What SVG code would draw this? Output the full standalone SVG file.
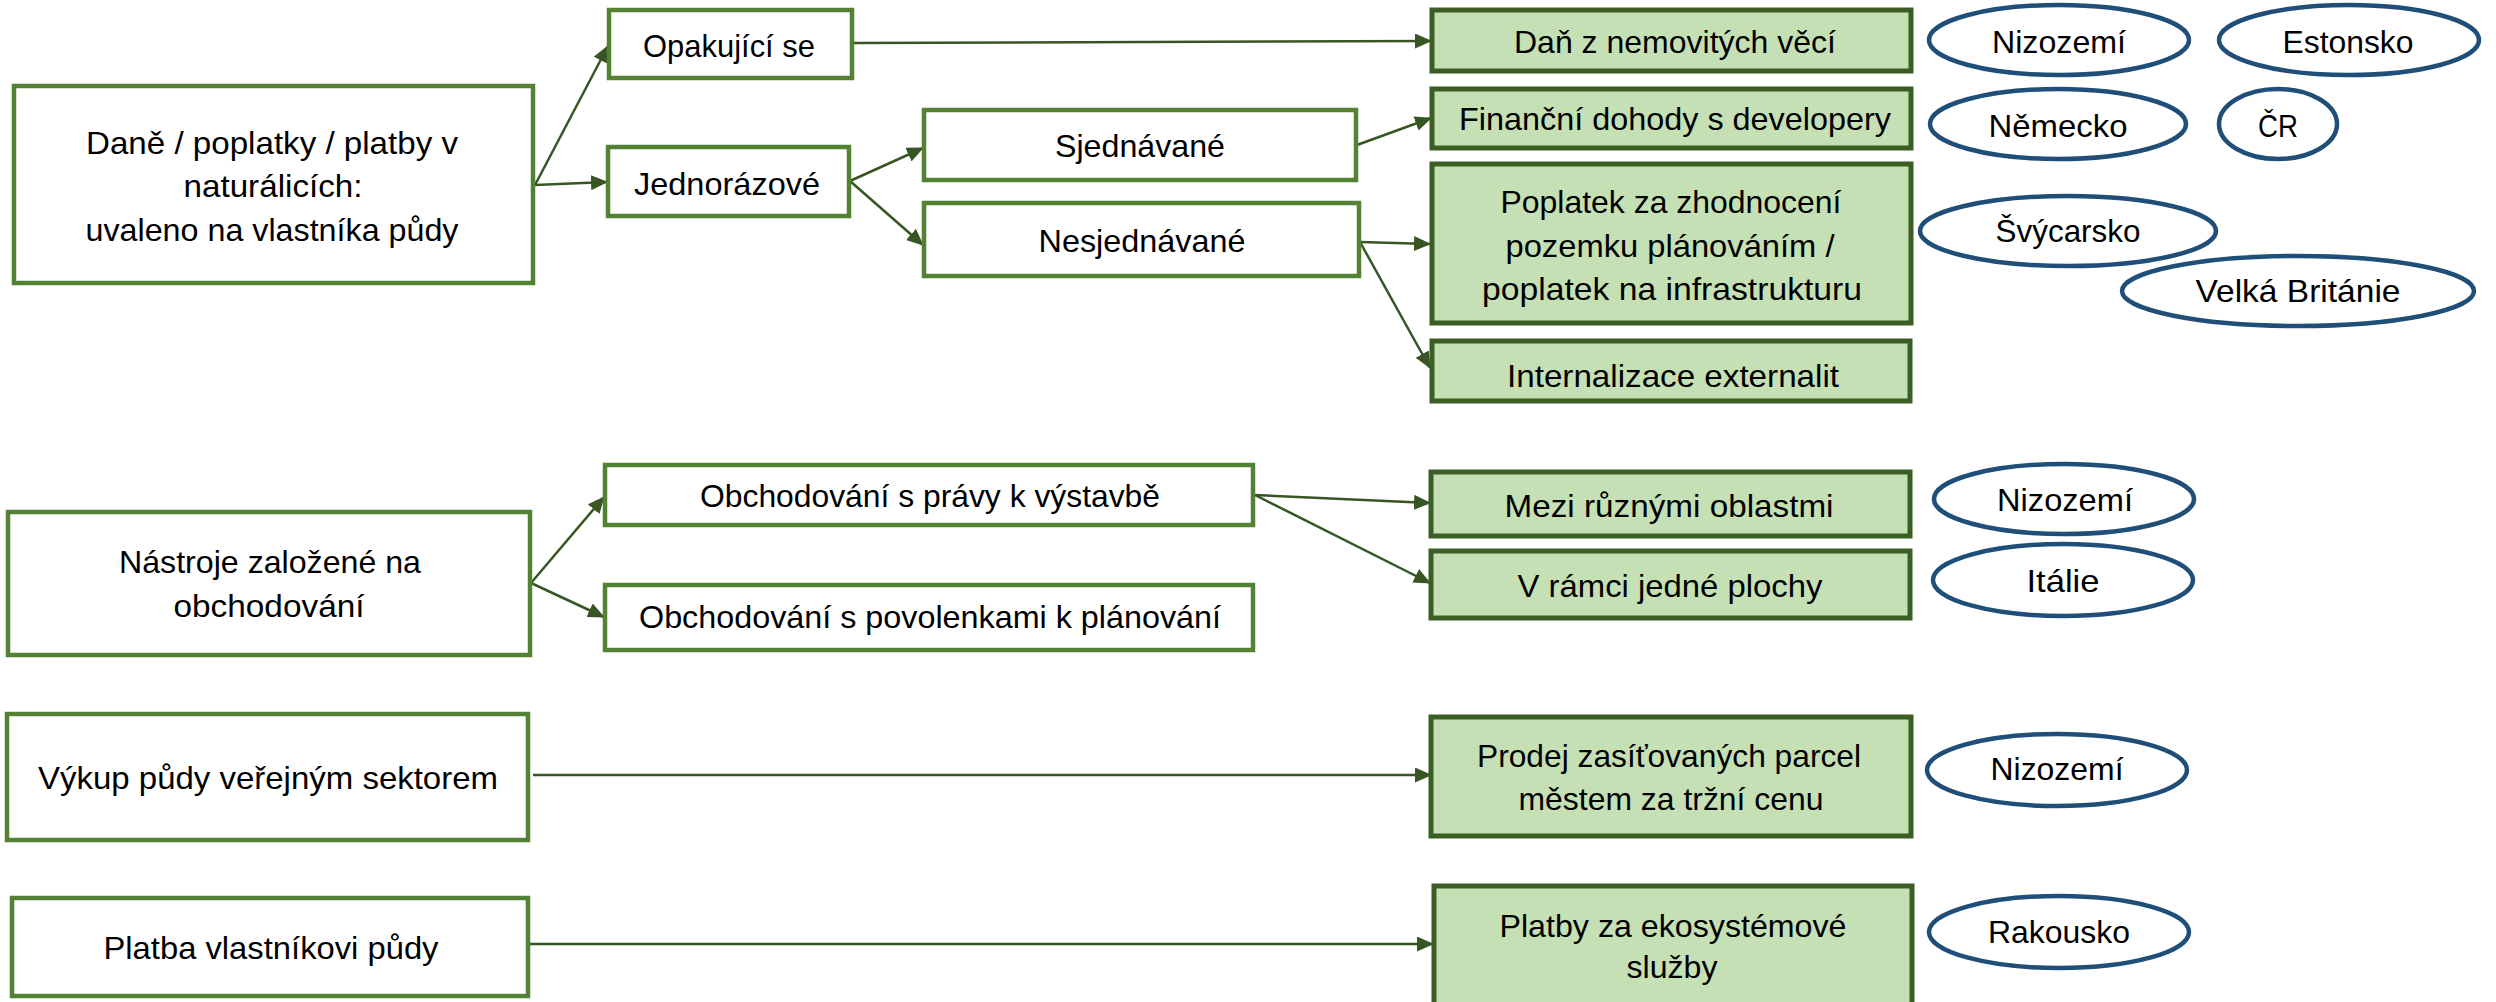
<svg xmlns="http://www.w3.org/2000/svg" width="2496" height="1002" viewBox="0 0 2496 1002">
<style>
.wb{fill:#ffffff;stroke:#548235;stroke-width:4.5}
.gb{fill:#c5e0b4;stroke:#3b5e25;stroke-width:5}
.el{fill:#ffffff;stroke:#1f4e79;stroke-width:4.5}
.t{font-family:"Liberation Sans",Arial,sans-serif;font-size:32px;fill:#000000;text-anchor:middle}
.c{stroke:#375623;stroke-width:2.5;fill:none;marker-end:url(#ah)}
</style>
<defs>
<marker id="ah" markerUnits="userSpaceOnUse" viewBox="0 0 17 15" markerWidth="17" markerHeight="15" refX="16" refY="7.5" orient="auto">
<path d="M0,0 L17,7.5 L0,15 z" fill="#375623"/>
</marker>
</defs>
<rect width="2496" height="1002" fill="#ffffff"/>
<g id="connectors">
<line class="c" x1="535" y1="185" x2="608" y2="46"/>
<line class="c" x1="535" y1="185" x2="607" y2="182"/>
<line class="c" x1="852" y1="43" x2="1431" y2="41"/>
<line class="c" x1="850" y1="181" x2="923" y2="148"/>
<line class="c" x1="850" y1="181" x2="923" y2="245"/>
<line class="c" x1="1357" y1="145" x2="1431" y2="118"/>
<line class="c" x1="1360" y1="242" x2="1430" y2="244"/>
<line class="c" x1="1360" y1="242" x2="1430" y2="368"/>
<line class="c" x1="531" y1="583" x2="604" y2="497"/>
<line class="c" x1="531" y1="583" x2="604" y2="617"/>
<line class="c" x1="1255" y1="495" x2="1430" y2="503"/>
<line class="c" x1="1255" y1="495" x2="1430" y2="583"/>
<line class="c" x1="533" y1="775" x2="1431" y2="775"/>
<line class="c" x1="529" y1="944" x2="1433" y2="944"/>
</g>
<g id="n-dane">
<rect class="wb" x="14" y="86" width="519" height="197"/>
<text class="t" x="272" y="154" textLength="372" lengthAdjust="spacingAndGlyphs">Daně / poplatky / platby v</text>
<text class="t" x="273" y="197" textLength="179" lengthAdjust="spacingAndGlyphs">naturálicích:</text>
<text class="t" x="272" y="241" textLength="373" lengthAdjust="spacingAndGlyphs">uvaleno na vlastníka půdy</text>
</g>
<g id="n-opak">
<rect class="wb" x="609" y="10" width="243" height="68"/>
<text class="t" x="729" y="57" textLength="172" lengthAdjust="spacingAndGlyphs">Opakující se</text>
</g>
<g id="n-jedn">
<rect class="wb" x="608" y="147" width="241" height="69"/>
<text class="t" x="727" y="195" textLength="186" lengthAdjust="spacingAndGlyphs">Jednorázové</text>
</g>
<g id="n-sjed">
<rect class="wb" x="924" y="110" width="432" height="70"/>
<text class="t" x="1140" y="157" textLength="170" lengthAdjust="spacingAndGlyphs">Sjednávané</text>
</g>
<g id="n-nesj">
<rect class="wb" x="924" y="203" width="435" height="73"/>
<text class="t" x="1142" y="252" textLength="207" lengthAdjust="spacingAndGlyphs">Nesjednávané</text>
</g>
<g id="n-dan">
<rect class="gb" x="1432" y="10" width="479" height="61"/>
<text class="t" x="1675" y="53" textLength="322" lengthAdjust="spacingAndGlyphs">Daň z nemovitých věcí</text>
</g>
<g id="n-fin">
<rect class="gb" x="1432" y="89" width="479" height="59"/>
<text class="t" x="1675" y="130" textLength="432" lengthAdjust="spacingAndGlyphs">Finanční dohody s developery</text>
</g>
<g id="n-popl">
<rect class="gb" x="1432" y="164" width="479" height="159"/>
<text class="t" x="1671" y="213" textLength="341" lengthAdjust="spacingAndGlyphs">Poplatek za zhodnocení</text>
<text class="t" x="1670" y="257" textLength="329" lengthAdjust="spacingAndGlyphs">pozemku plánováním /</text>
<text class="t" x="1672" y="300" textLength="380" lengthAdjust="spacingAndGlyphs">poplatek na infrastrukturu</text>
</g>
<g id="n-intern">
<rect class="gb" x="1432" y="341" width="478" height="60"/>
<text class="t" x="1673" y="387" textLength="332" lengthAdjust="spacingAndGlyphs">Internalizace externalit</text>
</g>
<g id="e-nl1">
<ellipse class="el" cx="2059" cy="40" rx="130" ry="35"/>
<text class="t" x="2059" y="53" textLength="134" lengthAdjust="spacingAndGlyphs">Nizozemí</text>
</g>
<g id="e-ee">
<ellipse class="el" cx="2349" cy="40" rx="130" ry="35"/>
<text class="t" x="2348" y="53" textLength="131" lengthAdjust="spacingAndGlyphs">Estonsko</text>
</g>
<g id="e-de">
<ellipse class="el" cx="2058" cy="124" rx="128" ry="35"/>
<text class="t" x="2058" y="137" textLength="139" lengthAdjust="spacingAndGlyphs">Německo</text>
</g>
<g id="e-cr">
<ellipse class="el" cx="2278" cy="124" rx="59" ry="35"/>
<text class="t" x="2278" y="137" textLength="40" lengthAdjust="spacingAndGlyphs">ČR</text>
</g>
<g id="e-ch">
<ellipse class="el" cx="2068" cy="231" rx="148" ry="35"/>
<text class="t" x="2068" y="242" textLength="145" lengthAdjust="spacingAndGlyphs">Švýcarsko</text>
</g>
<g id="e-uk">
<ellipse class="el" cx="2298" cy="291" rx="176" ry="35"/>
<text class="t" x="2298" y="302" textLength="205" lengthAdjust="spacingAndGlyphs">Velká Británie</text>
</g>
<g id="n-nastroje">
<rect class="wb" x="8" y="512" width="522" height="143"/>
<text class="t" x="270" y="573" textLength="302" lengthAdjust="spacingAndGlyphs">Nástroje založené na</text>
<text class="t" x="269" y="617" textLength="191" lengthAdjust="spacingAndGlyphs">obchodování</text>
</g>
<g id="n-obch1">
<rect class="wb" x="605" y="465" width="648" height="60"/>
<text class="t" x="930" y="507" textLength="460" lengthAdjust="spacingAndGlyphs">Obchodování s právy k výstavbě</text>
</g>
<g id="n-obch2">
<rect class="wb" x="605" y="585" width="648" height="65"/>
<text class="t" x="930" y="628" textLength="582" lengthAdjust="spacingAndGlyphs">Obchodování s povolenkami k plánování</text>
</g>
<g id="n-mezi">
<rect class="gb" x="1431" y="472" width="479" height="64"/>
<text class="t" x="1669" y="517" textLength="329" lengthAdjust="spacingAndGlyphs">Mezi různými oblastmi</text>
</g>
<g id="n-vramci">
<rect class="gb" x="1431" y="551" width="479" height="67"/>
<text class="t" x="1670" y="597" textLength="305" lengthAdjust="spacingAndGlyphs">V rámci jedné plochy</text>
</g>
<g id="e-nl2">
<ellipse class="el" cx="2064" cy="499" rx="130" ry="35"/>
<text class="t" x="2065" y="511" textLength="136" lengthAdjust="spacingAndGlyphs">Nizozemí</text>
</g>
<g id="e-it">
<ellipse class="el" cx="2063" cy="580" rx="130" ry="36"/>
<text class="t" x="2063" y="592" textLength="73" lengthAdjust="spacingAndGlyphs">Itálie</text>
</g>
<g id="n-vykup">
<rect class="wb" x="7" y="714" width="521" height="126"/>
<text class="t" x="268" y="789" textLength="460" lengthAdjust="spacingAndGlyphs">Výkup půdy veřejným sektorem</text>
</g>
<g id="n-prodej">
<rect class="gb" x="1431" y="717" width="480" height="119"/>
<text class="t" x="1669" y="767" textLength="384" lengthAdjust="spacingAndGlyphs">Prodej zasíťovaných parcel</text>
<text class="t" x="1671" y="810" textLength="305" lengthAdjust="spacingAndGlyphs">městem za tržní cenu</text>
</g>
<g id="e-nl3">
<ellipse class="el" cx="2057" cy="770" rx="130" ry="36"/>
<text class="t" x="2057" y="780" textLength="133" lengthAdjust="spacingAndGlyphs">Nizozemí</text>
</g>
<g id="n-platba">
<rect class="wb" x="12" y="898" width="516" height="98"/>
<text class="t" x="271" y="959" textLength="335" lengthAdjust="spacingAndGlyphs">Platba vlastníkovi půdy</text>
</g>
<g id="n-platby">
<rect class="gb" x="1434" y="886" width="478" height="122"/>
<text class="t" x="1673" y="937" textLength="347" lengthAdjust="spacingAndGlyphs">Platby za ekosystémové</text>
<text class="t" x="1672" y="978" textLength="91" lengthAdjust="spacingAndGlyphs">služby</text>
</g>
<g id="e-at">
<ellipse class="el" cx="2059" cy="932" rx="130" ry="36"/>
<text class="t" x="2059" y="943" textLength="142" lengthAdjust="spacingAndGlyphs">Rakousko</text>
</g>
</svg>
